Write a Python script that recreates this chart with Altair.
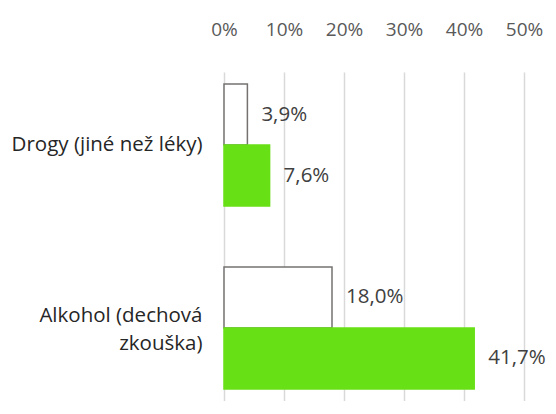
import altair as alt
import pandas as pd

categories = ["Drogy (jiné než léky)", "Alkohol (dechová zkouška)"]
series = ["A", "B"]
values_a = [0.039, 0.180]
values_b = [0.076, 0.417]
x_ticks = [0, 0.1, 0.2, 0.3, 0.4, 0.5]

rows = []
for c, a, b in zip(categories, values_a, values_b):
    rows.append({"cat": c, "series": series[0], "value": a})
    rows.append({"cat": c, "series": series[1], "value": b})
df = pd.DataFrame(rows)
df["label"] = df["value"].map(lambda v: f"{v*100:.1f}".replace(".", ",") + "%")

FONT = "Open Sans"

y = alt.Y("cat:N", sort=categories, title=None,
          scale=alt.Scale(paddingInner=0.333, paddingOuter=0.0656),
          axis=alt.Axis(labelExpr="datum.label == 'Alkohol (dechová zkouška)' ? ['Alkohol (dechová', 'zkouška)'] : datum.label",
                        labelFontSize=20.5, labelFont=FONT, labelColor="#262626",
                        labelLineHeight=28, labelPadding=22, ticks=False, domain=False,
                        labelOffset={"condition": {"test": "datum.value == 'Alkohol (dechová zkouška)'", "value": -12}, "value": 0},
                        labelLimit=300))
yoff = alt.YOffset("series:N", sort=series, scale=alt.Scale(paddingInner=0, paddingOuter=0))
x = alt.X("value:Q", title=None,
          scale=alt.Scale(domain=[0, 0.5], nice=False),
          axis=alt.Axis(orient="top", values=x_ticks, format=".0%", labelFontSize=19,
                        labelFont=FONT, labelColor="#595959", labelPadding=33,
                        labelFlush=False, labelOverlap=False,
                        ticks=False, domain=False, grid=True, gridColor="#d9d9d9",
                        gridWidth=1.5))

bars = alt.Chart(df).mark_bar(strokeWidth=1.5).encode(
    y=y, yOffset=yoff, x=x,
    fill=alt.Fill("series:N", scale=alt.Scale(domain=series, range=["#ffffff", "#68e016"]), legend=None),
    stroke=alt.Stroke("series:N", scale=alt.Scale(domain=series, range=["#767171", "#68e016"]), legend=None),
)
text = alt.Chart(df).mark_text(align="left", baseline="middle", dx=14, fontSize=20.5,
                               font=FONT, color="#404040").encode(
    y=y, yOffset=yoff, x=x, text="label:N")

chart = (bars + text).properties(
    width=300, height=329,
    autosize=alt.AutoSizeParams(type="none"),
    padding={"left": 216, "top": 64, "right": 24, "bottom": 0},
).configure_view(stroke=None)

chart.save("out.html", embed_options={"renderer": "svg", "actions": False})
